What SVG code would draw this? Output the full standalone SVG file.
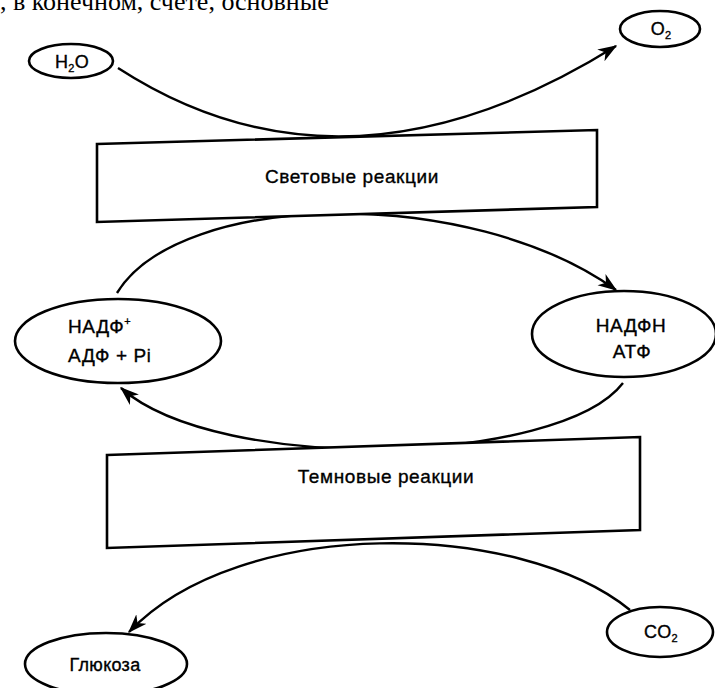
<svg xmlns="http://www.w3.org/2000/svg" width="715" height="688" viewBox="0 0 715 688">
  <style>
    .node ellipse, .node polygon { fill: #fff; stroke: #000; stroke-width: 2.6; }
    .lbl { font-family: "Liberation Sans", Arial, sans-serif; font-size: 19px; fill: #000; text-anchor: middle; stroke: #000; stroke-width: 0.35; letter-spacing: 0.6px; }
    .sm { font-size: 18px; letter-spacing: 0.3px; }
    .sub { font-size: 11px; }
    .left { text-anchor: start; }
    .conn path { fill: none; stroke: #000; stroke-width: 2.4; marker-end: url(#arrow); }
    .page { font-family: "Liberation Serif", "Times New Roman", serif; font-size: 26px; fill: #000; }
  </style>
  <defs>
    <marker id="arrow" viewBox="0 0 14 10" refX="13" refY="5" markerWidth="8" markerHeight="6" markerUnits="strokeWidth" orient="auto">
      <path d="M0,0 L14,5 L0,10 L4,5 z" fill="#000"/>
    </marker>
  </defs>
  <rect width="715" height="688" fill="#fff"/>

  <!-- running text line cut off at the top edge -->
  <text class="page" x="0" y="10">, в конечном, счете, основные</text>

  <!-- connectors -->
  <g id="connectors" class="conn">
    <path d="M118,68 Q345,215 616,46"/>
    <path d="M117,293 C180,190 470,185 616,290"/>
    <path d="M623,383 C560,465 220,475 121,388"/>
    <path d="M630,610 C520,520 240,515 129,632"/>
  </g>

  <g id="h2o" class="node">
    <ellipse cx="71" cy="61" rx="42" ry="17"/>
    <text class="lbl sm" x="72" y="68">H<tspan class="sub" dy="4">2</tspan><tspan dy="-4">O</tspan></text>
  </g>

  <g id="o2" class="node">
    <ellipse cx="660" cy="29" rx="40" ry="18"/>
    <text class="lbl sm" x="661" y="35">O<tspan class="sub" dy="4">2</tspan></text>
  </g>

  <g id="light" class="node">
    <polygon points="97,144 597,130 597,207 97,222"/>
    <text class="lbl" x="352" y="183">Световые реакции</text>
  </g>

  <g id="nadp" class="node">
    <ellipse cx="118" cy="341" rx="103" ry="42"/>
    <text class="lbl left" x="68" y="333">НАДФ<tspan class="sub" dy="-8">+</tspan></text>
    <text class="lbl left" x="68" y="362">АДФ + P<tspan class="sm">i</tspan></text>
  </g>

  <g id="nadph" class="node">
    <ellipse cx="624" cy="334" rx="92" ry="43"/>
    <text class="lbl" x="631" y="332">НАДФН</text>
    <text class="lbl" x="632" y="358">АТФ</text>
  </g>

  <g id="dark" class="node">
    <polygon points="107,455 640,437 640,530 107,548"/>
    <text class="lbl" x="386" y="483">Темновые реакции</text>
  </g>

  <g id="glucose" class="node">
    <ellipse cx="106" cy="664" rx="81" ry="31"/>
    <text class="lbl sm" x="105" y="671">Глюкоза</text>
  </g>

  <g id="co2" class="node">
    <ellipse cx="660" cy="632" rx="53" ry="25"/>
    <text class="lbl sm" x="661" y="638">CO<tspan class="sub" dy="4">2</tspan></text>
  </g>
</svg>
